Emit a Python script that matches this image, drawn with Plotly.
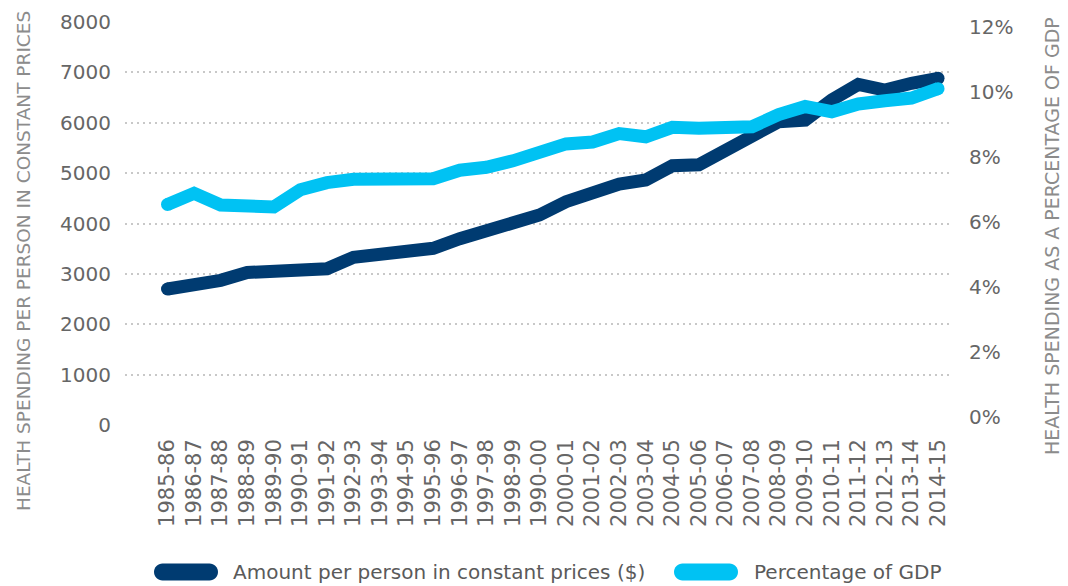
import plotly.graph_objects as go

years = ["1985-86", "1986-87", "1987-88", "1988-89", "1989-90", "1990-91", "1991-92",
         "1992-93", "1993-94", "1994-95", "1995-96", "1996-97", "1997-98", "1998-99",
         "1990-00", "2000-01", "2001-02", "2002-03", "2003-04", "2004-05", "2005-06",
         "2006-07", "2007-08", "2008-09", "2009-10", "2010-11", "2011-12", "2012-13",
         "2013-14", "2014-15"]

amount_per_person = [2700, 2785, 2872, 3027, 3057, 3083, 3103, 3329, 3384, 3444,
                     3507, 3698, 3857, 4016, 4169, 4433, 4605, 4784, 4863, 5147,
                     5167, 5453, 5737, 6021, 6054, 6451, 6763, 6650, 6783, 6882]

pct_gdp = [6.54, 6.88, 6.52, 6.49, 6.46, 6.99, 7.21, 7.31, 7.33, 7.35,
           7.33, 7.59, 7.68, 7.88, 8.09, 8.40, 8.46, 8.72, 8.62, 8.91,
           8.88, 8.86, 8.93, 9.30, 9.55, 9.39, 9.63, 9.73, 9.81, 10.10]

left_ticks = [0, 1000, 2000, 3000, 4000, 5000, 6000, 7000, 8000]
right_ticks = [0, 2, 4, 6, 8, 10, 12]
right_labels = ["0%", "2%", "4%", "6%", "8%", "10%", "12%"]

series_names = ["Amount per person in constant prices ($)", "Percentage of GDP"]

DARK = "#003B71"
CYAN = "#00C2F3"
TICK_GREY = "#666666"
TITLE_GREY = "#8c8c8c"
LEGEND_GREY = "#5a5a5a"
FONT = "DejaVu Sans"
LINE_W = 13

# the page body has an 8px default margin; the figure is sized to fit the window
OFF = 8
W, H = 1068 - OFF, 586 - OFF
# plot area in window pixels: x 125..950, y 22..425
ML, MT = 125 - OFF, 22 - OFF
MR = W - (950 - OFF)
MB = H - (425 - OFF)
PW, PH = W - ML - MR, H - MT - MB


def px_to_paper_x(px):
    # px given in window coordinates
    return (px - OFF - ML) / PW


def px_to_paper_y(py):
    return (H - MB - (py - OFF)) / PH


fig = go.Figure()

fig.add_trace(go.Scatter(
    x=years, y=pct_gdp, mode="lines", name=series_names[1],
    line=dict(color=CYAN, width=LINE_W), yaxis="y2", showlegend=False,
    hoverinfo="skip"))
fig.add_trace(go.Scatter(
    x=years, y=amount_per_person, mode="lines", name=series_names[0],
    line=dict(color=DARK, width=LINE_W), showlegend=False, hoverinfo="skip"))

# rounded line ends
fig.add_trace(go.Scatter(
    x=[years[0], years[-1]], y=[pct_gdp[0], pct_gdp[-1]], mode="markers",
    marker=dict(color=CYAN, size=LINE_W), yaxis="y2", showlegend=False, hoverinfo="skip"))
fig.add_trace(go.Scatter(
    x=[years[0], years[-1]], y=[amount_per_person[0], amount_per_person[-1]], mode="markers",
    marker=dict(color=DARK, size=LINE_W), showlegend=False, hoverinfo="skip"))


def pill_path(w, h):
    r = h / 2
    k = 0.5523 * r
    return (f"M {r},{r} L {w - r},{r} "
            f"C {w - r + k},{r} {w},{k} {w},0 "
            f"C {w},{-k} {w - r + k},{-r} {w - r},{-r} "
            f"L {r},{-r} "
            f"C {r - k},{-r} 0,{-k} 0,0 "
            f"C 0,{k} {r - k},{r} {r},{r} Z")


legend_y = px_to_paper_y(572)
shapes = []
annotations = []
legend_items = [(series_names[0], DARK, 154, 233), (series_names[1], CYAN, 674, 754)]
for name, color, sx, tx in legend_items:
    shapes.append(dict(
        type="path", xref="paper", yref="paper", xsizemode="pixel", ysizemode="pixel",
        xanchor=px_to_paper_x(sx), yanchor=legend_y, path=pill_path(64, 17),
        fillcolor=color, line=dict(width=0)))
    annotations.append(dict(
        text=name, xref="paper", yref="paper", x=px_to_paper_x(tx - 2), y=legend_y,
        xanchor="left", yanchor="middle", showarrow=False,
        font=dict(size=20, color=LEGEND_GREY, family=FONT)))

annotations.append(dict(
    text="HEALTH SPENDING PER PERSON IN CONSTANT PRICES", xref="paper", yref="paper",
    x=px_to_paper_x(24), y=px_to_paper_y(261), textangle=-90, showarrow=False,
    font=dict(size=18.5, color=TITLE_GREY, family=FONT),
    xanchor="center", yanchor="middle"))
annotations.append(dict(
    text="HEALTH SPENDING AS A PERCENTAGE OF GDP", xref="paper", yref="paper",
    x=px_to_paper_x(1052), y=px_to_paper_y(236), textangle=-90, showarrow=False,
    font=dict(size=19, color=TITLE_GREY, family=FONT),
    xanchor="center", yanchor="middle"))

fig.update_layout(
    width=W, height=H,
    margin=dict(l=ML, r=MR, t=MT, b=MB, autoexpand=False),
    paper_bgcolor="white", plot_bgcolor="white",
    font=dict(family=FONT, color=TICK_GREY, size=20),
    showlegend=False,
    xaxis=dict(
        type="category", categoryorder="array", categoryarray=years,
        range=[-1.6, 29.45], tickangle=-90, showgrid=False, showline=False,
        zeroline=False, ticks="", ticklabelstandoff=9, automargin=False,
        tickfont=dict(size=21, color=TICK_GREY, family=FONT)),
    yaxis=dict(
        range=[0, 8000], tickvals=left_ticks, showgrid=True,
        gridcolor="#c8c8c8", gridwidth=2, griddash="2px,4px",
        zeroline=False, showline=False, ticks="", ticklabelstandoff=13,
        automargin=False,
        tickfont=dict(size=20, color=TICK_GREY, family=FONT)),
    yaxis2=dict(
        overlaying="y", side="right", range=[-0.246, 12.15], tickvals=right_ticks,
        ticktext=right_labels, showgrid=False, zeroline=False, showline=False, ticks="",
        ticklabelstandoff=18, automargin=False,
        tickfont=dict(size=20, color=TICK_GREY, family=FONT)),
    shapes=shapes,
    annotations=annotations,
)

fig.write_html("out.html")
